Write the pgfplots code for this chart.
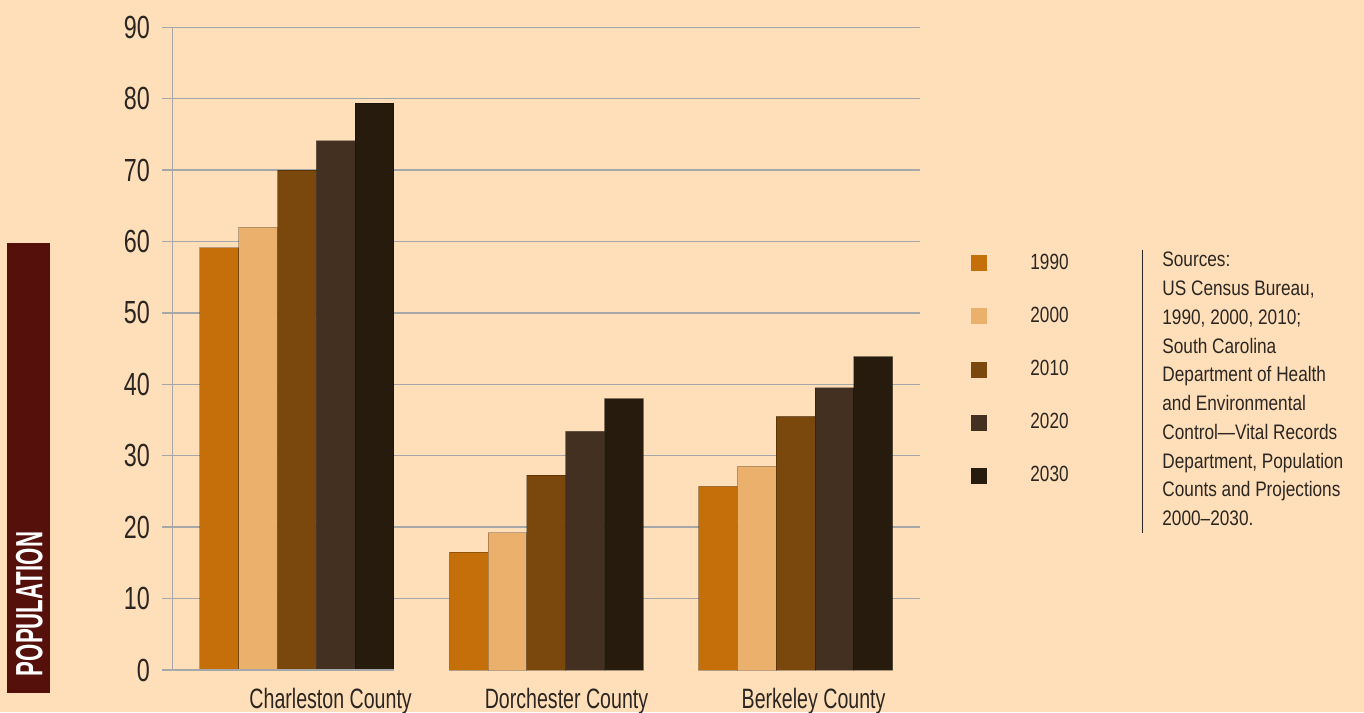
\documentclass[border=0pt]{standalone}
\usepackage{fontspec}
\usepackage{pgfplots}
\usepackage{pgfplotstable}
\pgfplotsset{compat=1.18}

\setmainfont{Liberation Sans}
\newfontfamily\tickfont{Liberation Sans}[FakeStretch=0.73]
\newfontfamily\catfont{Liberation Sans}[FakeStretch=0.70]
\newfontfamily\legfont{Liberation Sans}[FakeStretch=0.78]
\newfontfamily\srcfont{Liberation Sans}[FakeStretch=0.82]
\newfontfamily\popfont{Liberation Sans Bold}[FakeStretch=0.585]

\definecolor{bg}{HTML}{FEDFB9}
\definecolor{c1990}{HTML}{C46F0A}
\definecolor{c2000}{HTML}{EAB06C}
\definecolor{c2010}{HTML}{7A470C}
\definecolor{c2020}{HTML}{443020}
\definecolor{c2030}{HTML}{271B0E}
\definecolor{maroon}{HTML}{56100C}
\definecolor{ink}{HTML}{2B2622}
\definecolor{gridc}{HTML}{A6A7A8}

% population in thousands, by county and year
\pgfplotstableread{
x  y1990 y2000 y2010 y2020 y2030
0  59.1  62.0  70.0  74.1  79.4
1  16.5  19.2  27.3  33.4  38.0
2  25.7  28.5  35.5  39.5  43.9
}\popdata

\begin{document}
\begin{tikzpicture}
\path[use as bounding box, fill=bg] (0pt,0pt) rectangle (682pt,356pt);

% side title
\fill[maroon] (3.65pt,9.65pt) rectangle (25pt,234.5pt);
\node[rotate=90, text=white, inner sep=0pt, font=\popfont\fontsize{19}{21}\selectfont]
  at (14.67pt,54pt) {POPULATION};

\begin{axis}[
  at={(86.15pt,21pt)}, anchor=south west,
  scale only axis, width=374pt, height=321.35pt,
  xmin=-0.5, xmax=2.5, ymin=0, ymax=90,
  ybar=0pt, bar width=0.1556,
  axis line style={draw=gridc, line width=0.7pt},
  x axis line style={draw=none},
  axis y line*=left, axis x line*=bottom,
  ytick={10,20,...,90},
  extra y ticks={0}, extra y tick style={grid=none},
  ymajorgrids, grid style={draw=gridc, line width=0.7pt},
  tick align=outside, major tick length=5pt,
  tick style={draw=gridc, line width=0.7pt},
  /pgf/number format/assume math mode=true,
  yticklabel style={font=\tickfont\fontsize{16}{18}\selectfont, text=ink, inner sep=0pt, xshift=-6pt},
  xtick={0.135,1.081,2.072},
  xticklabels={Charleston County, Dorchester County, Berkeley County},
  x tick style={draw=none},
  xticklabel style={font=\catfont\fontsize{14}{16}\selectfont, text=ink, anchor=base, inner sep=0pt, yshift=-14pt},
  every axis plot/.append style={draw=black, draw opacity=0.25, line width=0.5pt},
  legend image code/.code={%
    \fill[#1, draw=none] (0pt,-4pt) rectangle (8pt,4pt);
    \path[draw=none, fill=none] (0pt,-13.275pt) rectangle (29.7pt,13.275pt);},
  legend style={at={(1.0678,0.674)}, anchor=north west, draw=none, fill=none,
    inner sep=0pt, outer sep=0pt, row sep=0pt,
    font=\legfont\fontsize{11}{13}\selectfont, text=ink,
    nodes={inner sep=0pt}},
  legend cell align=left,
]
\addplot[fill=c1990] table[x=x, y=y1990] {\popdata};
\addplot[fill=c2000] table[x=x, y=y2000] {\popdata};
\addplot[fill=c2010] table[x=x, y=y2010] {\popdata};
\addplot[fill=c2020] table[x=x, y=y2020] {\popdata};
\addplot[fill=c2030] table[x=x, y=y2030] {\popdata};
\legend{1990, 2000, 2010, 2020, 2030}
% base line under the first group only
\draw[gridc, line width=0.7pt] (axis cs:-0.5,0) -- (axis cs:0.389,0);
\end{axis}

% sources note
\draw[ink, line width=0.5pt] (571pt,231pt) -- (571pt,89.5pt);
\node[anchor=north west, inner sep=0pt, text=ink, align=left,
  font=\srcfont\fontsize{10.5}{14.37}\selectfont] at (581pt,230.05pt)
  {Sources:\\US Census Bureau,\\1990, 2000, 2010;\\South Carolina\\Department of Health\\and Environmental\\Control—Vital Records\\Department, Population\\Counts and Projections\\2000–2030.};
\end{tikzpicture}
\end{document}
